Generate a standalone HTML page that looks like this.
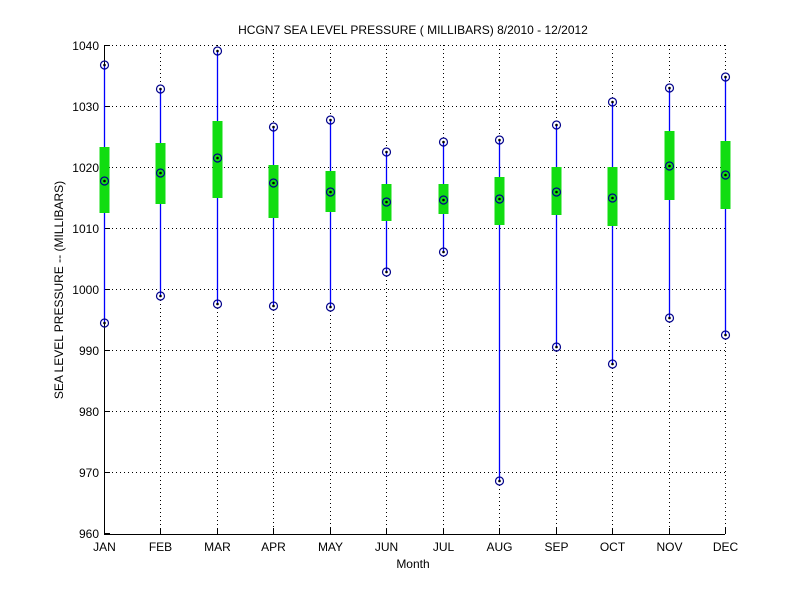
<!DOCTYPE html>
<html><head><meta charset="utf-8"><style>body{margin:0;background:#fff}svg{display:block}</style></head>
<body>
<svg width="800" height="600" xmlns="http://www.w3.org/2000/svg" font-family="Liberation Sans, sans-serif" font-size="12">
<rect width="800" height="600" fill="#fff"/>
<g stroke="#000" stroke-width="1" stroke-dasharray="1,3">
<line x1="104" y1="45.5" x2="725" y2="45.5"/>
<line x1="104" y1="106.5" x2="725" y2="106.5"/>
<line x1="104" y1="167.5" x2="725" y2="167.5"/>
<line x1="104" y1="228.5" x2="725" y2="228.5"/>
<line x1="104" y1="289.5" x2="725" y2="289.5"/>
<line x1="104" y1="350.5" x2="725" y2="350.5"/>
<line x1="104" y1="411.5" x2="725" y2="411.5"/>
<line x1="104" y1="472.5" x2="725" y2="472.5"/>
</g>
<g id="vg" stroke="#000" stroke-dasharray="1,3"></g>
<line x1="104.5" y1="45" x2="104.5" y2="534" stroke="#000"/>
<line x1="104" y1="534.5" x2="725" y2="534.5" stroke="#000"/>
<g id="ticks" stroke="#000"></g>
<g id="data"></g>
<g text-anchor="end" font-size="12">
<text x="99" y="50">1040</text><text x="99" y="111">1030</text><text x="99" y="172">1020</text><text x="99" y="233">1010</text>
<text x="99" y="294">1000</text><text x="99" y="355">990</text><text x="99" y="416">980</text><text x="99" y="477">970</text><text x="99" y="538">960</text>
</g>
<g id="xl" text-anchor="middle"></g>
<text x="413" y="568" text-anchor="middle" font-size="12">Month</text>
<text x="413" y="34" text-anchor="middle" font-size="12">HCGN7   SEA LEVEL PRESSURE ( MILLIBARS) 8/2010 - 12/2012</text>
<text transform="translate(63,290) rotate(-90)" text-anchor="middle" font-size="12">SEA LEVEL PRESSURE -- (MILLIBARS)</text>
</svg>
<script>
var ns="http://www.w3.org/2000/svg";
function el(p,t,a){var e=document.createElementNS(ns,t);for(var k in a)e.setAttribute(k,a[k]);p.appendChild(e);return e;}
var m=["JAN","FEB","MAR","APR","MAY","JUN","JUL","AUG","SEP","OCT","NOV","DEC"];
var d=[[65,147,181,213,323],[89,143,173,204,296],[51,121,158,198,304],[127,165,183,218,306],[120,171,192,212,307],[152,184,202,221,272],[142,184,200,214,252],[140,177,199,225,481],[125,167,192,215,347],[102,167,198,226,364],[88,131,166,200,318],[77,141,175,209,335]];
var vg=document.getElementById("vg"),dg=document.getElementById("data"),tg=document.getElementById("ticks"),xl=document.getElementById("xl");
for(var i=0;i<12;i++){var x=Math.round(104+i*56.45)+0.5;var v=d[i];
 if(i>0){el(vg,"line",{x1:x,y1:45,x2:x,y2:v[0]-4});el(vg,"line",{x1:x,y1:v[4]+4,x2:x,y2:534});}
 el(tg,"line",{x1:x,y1:534,x2:x,y2:528});
 var t=el(xl,"text",{x:x,y:551});t.textContent=m[i];
 el(dg,"line",{x1:x,y1:v[0],x2:x,y2:v[4],stroke:"#0000ff","stroke-width":1.3});
 el(dg,"rect",{x:x-5,y:v[1],width:10,height:v[3]-v[1],fill:"#11dd11"});
 [v[0],v[2],v[4]].forEach(function(y){el(dg,"circle",{cx:x,cy:y,r:4,fill:"none",stroke:"#00008b","stroke-width":1.2});el(dg,"circle",{cx:x,cy:y,r:1.3,fill:"#000"});});
}
for(var j=0;j<9;j++){var y=45.5+j*61;el(tg,"line",{x1:104,y1:y,x2:110,y2:y});}
</script>
</body></html>
